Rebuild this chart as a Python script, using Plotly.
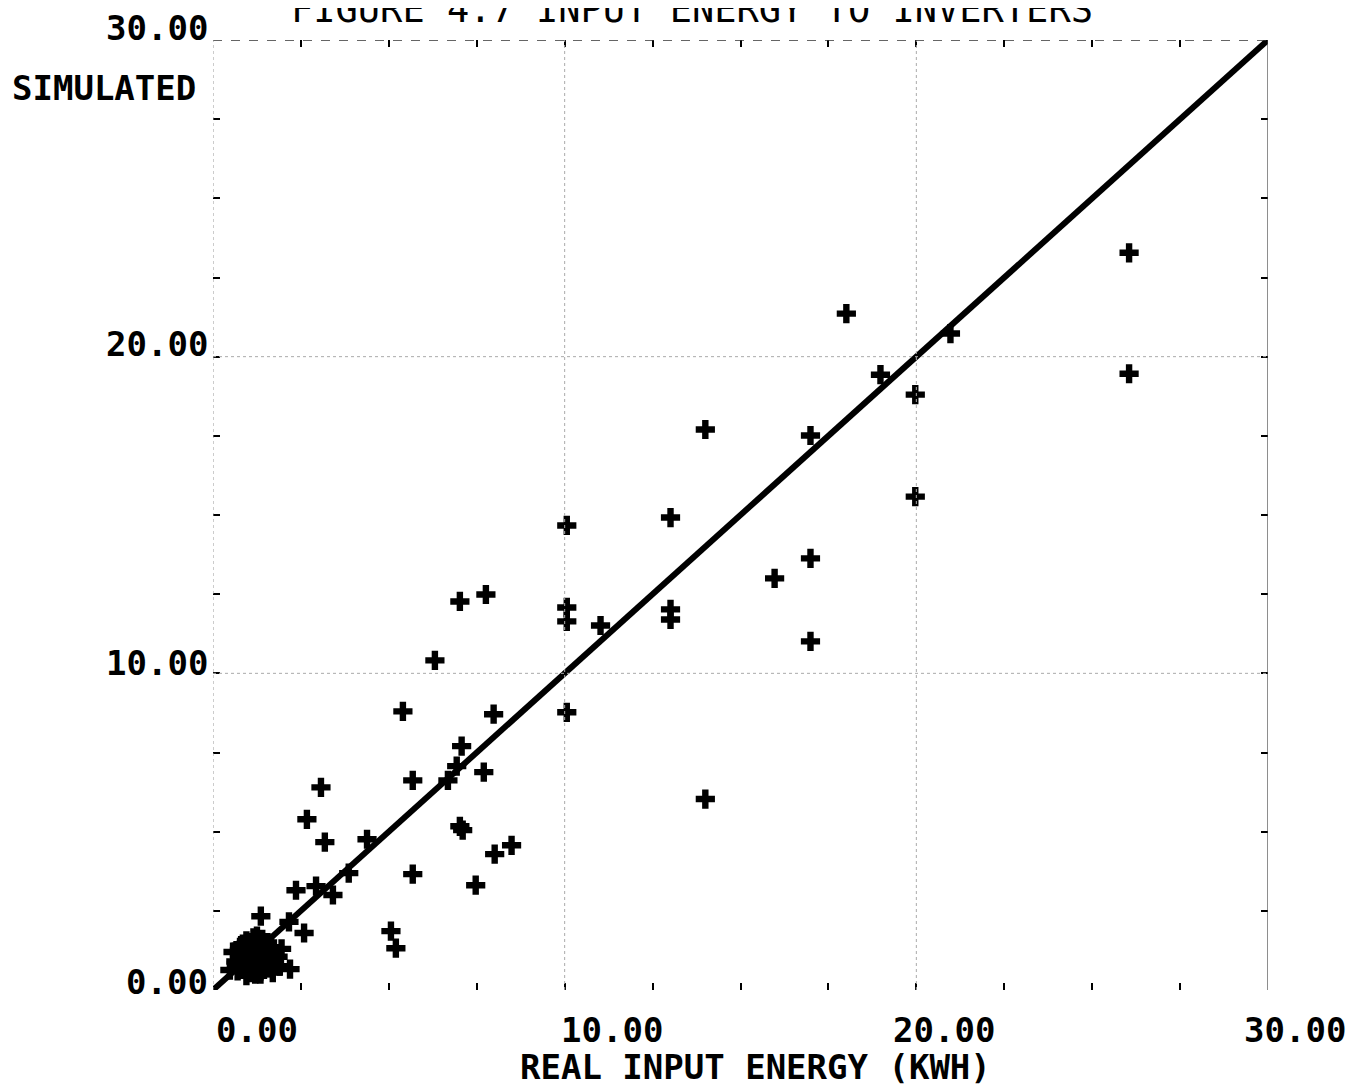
import plotly.graph_objects as go

# Scattered points (real, simulated) in kWh
real = [26.05, 26.05, 18.01, 18.98, 20.97, 19.97, 19.97, 16.99, 16.99, 16.99,
        15.97, 14.00, 14.00, 13.01, 13.01, 13.01, 11.02, 10.06, 10.06, 10.06,
        10.06, 7.76, 7.02, 6.31, 5.40, 7.98, 7.07, 6.93, 6.68, 7.70,
        5.68, 3.07, 2.67, 3.18, 4.38, 7.02, 7.10, 8.01, 8.49, 5.68,
        7.47, 3.86, 2.93, 2.36, 3.41, 5.06, 5.20, 2.59, 2.16, 1.36,
        2.19, 0.57, 0.48]
simulated = [23.28, 19.46, 21.36, 19.43, 20.73, 18.80, 15.58, 17.51, 13.63, 11.01,
             13.00, 17.70, 6.03, 14.92, 12.02, 11.70, 11.51, 14.67, 12.08, 11.64,
             8.77, 12.49, 12.27, 10.41, 8.80, 8.71, 7.70, 7.07, 6.62, 6.88,
             6.62, 6.40, 5.39, 4.67, 4.76, 5.17, 5.05, 4.29, 4.57, 3.66,
             3.31, 3.69, 3.28, 3.15, 3.00, 1.86, 1.32, 1.80, 2.15, 2.33,
             0.66, 1.20, 0.63]

# Dense cluster near the origin
cluster_real = [0.65, 0.75, 0.85, 0.95, 1.05, 1.15, 1.25, 1.35, 1.45, 1.55, 1.65, 1.75,
                0.70, 0.80, 0.90, 1.00, 1.10, 1.20, 1.30, 1.40, 1.50, 1.60, 1.85,
                0.75, 0.85, 0.95, 1.05, 1.15, 1.25, 1.35, 1.45, 1.55, 1.70,
                0.80, 0.90, 1.00, 1.10, 1.20, 1.30, 1.40, 1.50, 1.90, 1.95,
                0.95, 1.15, 1.35, 1.55, 1.25, 1.05, 0.85]
cluster_sim = [0.90, 1.10, 0.70, 1.30, 0.55, 1.45, 0.80, 1.20, 0.65, 1.00, 1.35, 0.85,
               0.60, 1.40, 1.00, 0.80, 1.20, 0.50, 1.55, 0.95, 1.25, 0.70, 1.05,
               1.25, 0.85, 1.55, 1.05, 0.75, 1.35, 0.60, 1.10, 1.50, 0.55,
               1.00, 1.20, 0.65, 1.40, 0.95, 1.15, 1.60, 0.85, 0.75, 1.30,
               0.45, 1.65, 0.50, 1.15, 1.70, 0.95, 1.45]

line_x = [0, 30]
line_y = [0, 30]

tick_vals = [0, 10, 20, 30]
tick_text = ["0.00", "10.00", "20.00", "30.00"]

font_name = "DejaVu Sans Mono"
fig = go.Figure()

fig.add_trace(go.Scatter(x=line_x, y=line_y, mode="lines",
                         line=dict(color="black", width=6), showlegend=False,
                         cliponaxis=False))
fig.add_trace(go.Scatter(x=real + cluster_real, y=simulated + cluster_sim, mode="markers",
                         marker=dict(symbol="cross", size=16, color="black",
                                     line=dict(width=0)),
                         showlegend=False, cliponaxis=False))

shapes = []
# faint dotted grid lines
for v in [10, 20]:
    shapes.append(dict(type="line", xref="x", yref="y", x0=v, x1=v, y0=0, y1=30,
                       line=dict(color="#aaa", width=1, dash="dot")))
    shapes.append(dict(type="line", xref="x", yref="y", x0=0, x1=30, y0=v, y1=v,
                       line=dict(color="#aaa", width=1, dash="dot")))
# frame
shapes.append(dict(type="line", xref="x", yref="y", x0=0, x1=30, y0=30, y1=30,
                   line=dict(color="#333", width=1.5, dash="dash")))
shapes.append(dict(type="line", xref="x", yref="y", x0=30, x1=30, y0=0, y1=30,
                   line=dict(color="#444", width=1.2)))
shapes.append(dict(type="line", xref="x", yref="y", x0=0, x1=0, y0=0, y1=30,
                   line=dict(color="#999", width=1, dash="dot")))

# page body has an 8px margin, so the figure is 8px smaller on each axis
fig.update_layout(
    width=1349, height=1083,
    margin=dict(l=205, r=89, t=32, b=101),
    paper_bgcolor="white", plot_bgcolor="white",
    shapes=shapes,
    xaxis=dict(range=[0, 30], dtick=2.5, tick0=0, ticks="inside", ticklen=7,
               tickwidth=2, tickcolor="black", showticklabels=False,
               showgrid=False, zeroline=False, showline=False, mirror="ticks"),
    yaxis=dict(range=[0, 30], dtick=2.5, tick0=0, ticks="inside", ticklen=7,
               tickwidth=2, tickcolor="black", showticklabels=False,
               showgrid=False, zeroline=False, showline=False, mirror="ticks"),
)

def py(p):  # page pixel y -> paper y
    return (990 - p) / 950.0

def px(p):  # page pixel x -> paper x
    return (p - 213) / 1055.0

big = dict(family=font_name, size=34, color="black")
ann = []
ypos = [982, 663, 344, 28]
xpos = [257, 612, 944, 1295]
for yp, t in zip(ypos, tick_text):
    ann.append(dict(x=px(210), y=py(yp), xref="paper", yref="paper", text="<b>" + t + "</b>",
                    showarrow=False, xanchor="right", yanchor="middle", font=big))
for xp, t in zip(xpos, tick_text):
    ann.append(dict(x=px(xp), y=py(1030), xref="paper", yref="paper", text="<b>" + t + "</b>",
                    showarrow=False, xanchor="center", yanchor="middle", font=big))
ann.append(dict(x=px(104), y=py(88), xref="paper", yref="paper", text="<b>SIMULATED</b>",
                showarrow=False, xanchor="center", yanchor="middle", font=big))
ann.append(dict(x=px(755), y=py(1067), xref="paper", yref="paper",
                text="<b>REAL INPUT ENERGY (KWH)</b>",
                showarrow=False, xanchor="center", yanchor="middle", font=big))
ann.append(dict(x=px(692), y=py(9), xref="paper", yref="paper",
                text="FIGURE 4.7 INPUT ENERGY TO INVERTERS",
                showarrow=False, xanchor="center", yanchor="middle",
                font=dict(family=font_name, size=37, color="black")))
fig.update_layout(annotations=ann)

fig.write_html("out.html")
